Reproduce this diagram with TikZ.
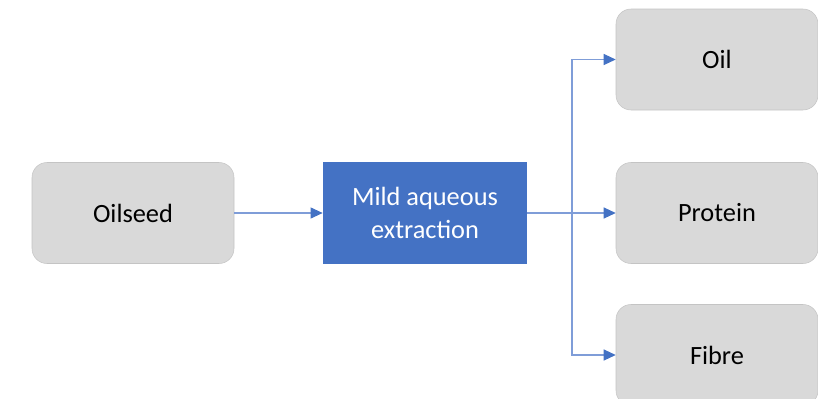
\documentclass[tikz,border=0pt]{standalone}
\usepackage{fontspec}
\setmainfont{Carlito}
\usepackage{xcolor}
\usetikzlibrary{arrows.meta}
\definecolor{boxgrey}{HTML}{D9D9D9}
\definecolor{edgegrey}{HTML}{C4C4C4}
\definecolor{procblue}{HTML}{4472C4}
\definecolor{lineblue}{HTML}{7F9DD8}
\tikzset{>={Triangle[length=2.4mm, width=2.2mm, color=procblue]}}
\tikzset{
  product/.style={draw=edgegrey, line width=0.3pt, fill=boxgrey, rounded corners=3mm,
    minimum width=4.04cm, minimum height=2.02cm, font=\fontsize{15}{18}\selectfont},
  process/.style={fill=procblue, text=white, minimum width=4.08cm, minimum height=2.04cm,
    align=center, font=\fontsize{15}{18.4}\selectfont},
  flow/.style={->, lineblue, line width=0.6pt}
}

\begin{document}
\begin{tikzpicture}
        \useasboundingbox (0,0) rectangle (16.36,-7.96);
        % Boxes
        \node[product] (oilseed) at (2.66,-4.26) {Oilseed};
        \node[process] (extract) at (8.5,-4.26) {Mild aqueous\\extraction};
        \node[product] (oil) at (14.34,-1.19) {Oil};
        \node[product] (protein) at (14.34,-4.26) {Protein};
        \node[product] (fibre) at (14.34,-7.1) {Fibre};
        \coordinate (split) at (11.44,-4.26);

        % Flows
        \draw [flow] (oilseed) -- (extract);
        \draw [flow] (extract) -- (split) |- (oil);
        \draw [flow] (extract) -- (protein);
        \draw [flow] (extract) -- (split) |- (fibre);
      \end{tikzpicture}
\end{document}
